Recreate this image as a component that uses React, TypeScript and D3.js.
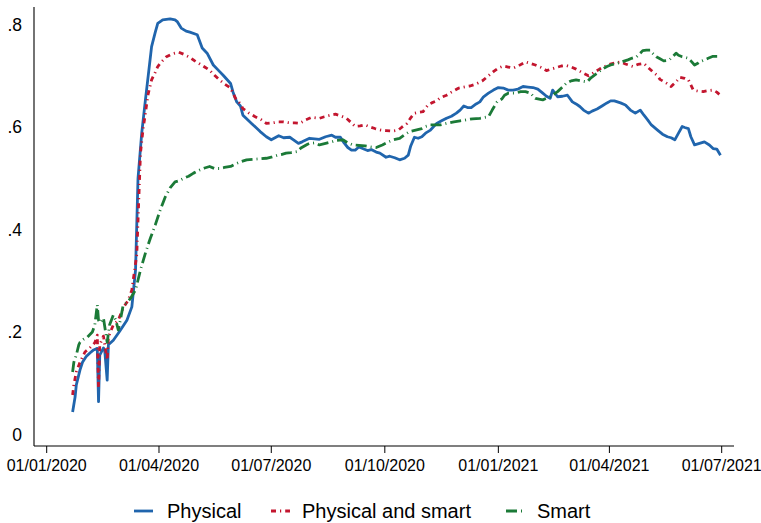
import React from "react";
import * as d3 from "d3";

const START = new Date(2020, 0, 1);
const xTickDates = ["2020-01-01", "2020-04-01", "2020-07-01", "2020-10-01", "2021-01-01", "2021-04-01", "2021-07-01"];
const yTicks = [0, 0.2, 0.4, 0.6, 0.8];
const yTickLabels = ["0", ".2", ".4", ".6", ".8"];
const seriesNames = ["Physical", "Physical and smart", "Smart"];

// [days since 2020-01-01, share]
const physical: [number, number][] = [
  [21,0.044],[23,0.073],[24,0.097],[27,0.126],[29,0.141],[32,0.152],[35,0.159],[38,0.165],[41,0.168],[42,0.064],[43,0.155],[46,0.169],[47,0.165],[49,0.106],[50,0.175],[54,0.184],[59,0.201],[65,0.223],[69,0.249],[72,0.321],[74,0.5],[77,0.588],[80,0.653],[85,0.757],[88,0.785],[90,0.802],[94,0.809],[97,0.81],[100,0.811],[104,0.809],[106,0.805],[109,0.793],[113,0.787],[116,0.785],[122,0.78],[126,0.754],[130,0.744],[135,0.721],[139,0.711],[143,0.701],[149,0.685],[151,0.668],[154,0.649],[157,0.641],[159,0.623],[162,0.616],[166,0.607],[170,0.598],[173,0.591],[178,0.581],[182,0.575],[185,0.579],[188,0.583],[192,0.579],[197,0.58],[200,0.575],[204,0.568],[207,0.571],[213,0.578],[217,0.577],[221,0.576],[226,0.581],[231,0.584],[234,0.58],[238,0.58],[241,0.569],[244,0.56],[247,0.555],[250,0.555],[253,0.561],[256,0.558],[260,0.554],[263,0.556],[267,0.551],[270,0.549],[275,0.541],[278,0.543],[282,0.54],[286,0.536],[290,0.539],[293,0.545],[295,0.563],[298,0.58],[301,0.578],[304,0.581],[307,0.588],[311,0.594],[316,0.607],[320,0.612],[324,0.617],[328,0.621],[332,0.627],[335,0.633],[338,0.641],[341,0.638],[344,0.638],[348,0.645],[351,0.649],[354,0.659],[358,0.666],[362,0.672],[366,0.677],[370,0.676],[374,0.672],[378,0.672],[382,0.674],[386,0.679],[390,0.678],[394,0.677],[398,0.674],[402,0.666],[405,0.66],[408,0.656],[410,0.672],[414,0.659],[418,0.66],[422,0.662],[426,0.649],[429,0.645],[432,0.64],[435,0.633],[439,0.627],[442,0.631],[446,0.635],[450,0.641],[454,0.647],[457,0.651],[460,0.651],[465,0.647],[469,0.643],[473,0.633],[477,0.627],[481,0.633],[484,0.623],[487,0.614],[490,0.604],[495,0.594],[499,0.586],[503,0.581],[506,0.579],[509,0.575],[512,0.588],[515,0.601],[517,0.599],[520,0.597],[522,0.581],[525,0.565],[529,0.568],[533,0.571],[537,0.565],[540,0.558],[543,0.557],[546,0.545]
];

const physicalAndSmart: [number, number][] = [
  [21,0.077],[22,0.097],[24,0.122],[27,0.141],[31,0.161],[35,0.169],[39,0.179],[41,0.194],[42,0.091],[43,0.175],[46,0.192],[49,0.145],[50,0.19],[54,0.214],[58,0.223],[62,0.247],[66,0.262],[69,0.282],[73,0.351],[76,0.549],[78,0.594],[80,0.627],[82,0.662],[85,0.692],[88,0.707],[90,0.718],[93,0.727],[97,0.737],[102,0.743],[107,0.746],[111,0.742],[116,0.736],[120,0.729],[124,0.723],[128,0.717],[132,0.711],[136,0.701],[140,0.692],[144,0.684],[149,0.676],[153,0.656],[157,0.645],[159,0.636],[164,0.627],[169,0.62],[174,0.614],[178,0.607],[183,0.608],[188,0.61],[192,0.61],[197,0.608],[201,0.608],[205,0.607],[210,0.614],[215,0.619],[218,0.618],[221,0.617],[225,0.62],[230,0.623],[234,0.625],[238,0.622],[243,0.617],[247,0.608],[250,0.601],[254,0.602],[258,0.604],[262,0.6],[266,0.597],[271,0.594],[275,0.593],[280,0.592],[285,0.594],[288,0.6],[292,0.607],[295,0.618],[298,0.627],[302,0.629],[305,0.63],[309,0.643],[312,0.647],[316,0.651],[319,0.657],[324,0.662],[328,0.668],[334,0.676],[338,0.678],[343,0.68],[348,0.684],[353,0.69],[357,0.698],[362,0.708],[366,0.715],[370,0.719],[374,0.717],[378,0.715],[382,0.719],[388,0.727],[392,0.724],[396,0.721],[401,0.716],[405,0.71],[409,0.713],[413,0.716],[417,0.719],[421,0.72],[425,0.717],[429,0.713],[434,0.706],[439,0.7],[444,0.707],[448,0.713],[452,0.718],[456,0.722],[460,0.725],[465,0.727],[469,0.723],[475,0.718],[479,0.722],[484,0.724],[487,0.717],[491,0.708],[495,0.7],[497,0.693],[502,0.686],[506,0.679],[510,0.688],[513,0.697],[517,0.695],[520,0.692],[524,0.672],[528,0.67],[532,0.669],[536,0.671],[540,0.672],[543,0.668],[546,0.662]
];

const smart: [number, number][] = [
  [21,0.122],[22,0.141],[24,0.155],[26,0.175],[27,0.18],[30,0.186],[33,0.19],[37,0.2],[39,0.214],[41,0.253],[42,0.223],[43,0.218],[46,0.227],[49,0.18],[51,0.214],[54,0.233],[56,0.223],[58,0.204],[60,0.227],[62,0.253],[65,0.257],[68,0.266],[72,0.282],[76,0.321],[80,0.354],[84,0.383],[88,0.409],[92,0.438],[96,0.463],[100,0.481],[104,0.493],[107,0.495],[111,0.5],[115,0.504],[119,0.51],[124,0.516],[128,0.52],[132,0.523],[136,0.519],[140,0.519],[144,0.521],[149,0.523],[153,0.528],[157,0.532],[162,0.536],[167,0.537],[173,0.538],[178,0.539],[182,0.541],[186,0.544],[190,0.546],[194,0.549],[198,0.55],[203,0.552],[206,0.559],[211,0.566],[213,0.568],[217,0.569],[221,0.565],[226,0.568],[231,0.571],[235,0.574],[240,0.575],[244,0.569],[248,0.565],[253,0.564],[258,0.563],[263,0.561],[267,0.56],[272,0.565],[277,0.571],[281,0.575],[286,0.578],[290,0.585],[294,0.591],[299,0.594],[304,0.597],[307,0.601],[311,0.604],[315,0.604],[319,0.604],[324,0.607],[330,0.61],[335,0.612],[340,0.614],[345,0.616],[351,0.617],[358,0.62],[361,0.633],[365,0.649],[369,0.655],[371,0.662],[374,0.666],[380,0.666],[384,0.669],[388,0.669],[392,0.666],[396,0.656],[402,0.653],[408,0.659],[414,0.669],[418,0.678],[421,0.685],[425,0.69],[429,0.692],[433,0.69],[438,0.688],[441,0.696],[446,0.705],[449,0.711],[454,0.718],[457,0.721],[462,0.724],[466,0.727],[471,0.731],[474,0.734],[478,0.737],[481,0.744],[483,0.749],[486,0.75],[489,0.75],[491,0.744],[494,0.737],[497,0.733],[500,0.729],[503,0.73],[505,0.732],[508,0.739],[510,0.744],[512,0.74],[515,0.737],[517,0.736],[520,0.734],[522,0.729],[525,0.721],[528,0.725],[529,0.727],[533,0.731],[536,0.734],[540,0.738],[543,0.738],[546,0.738]
];

const W = 761;
const H = 523;
const FONT = "'Liberation Sans', Arial, Helvetica, sans-serif";

const styles = [
  { color: "#2065ad", dash: "none" },
  { color: "#c3162f", dash: "5,4,1.2,4" },
  { color: "#1b7a37", dash: "11,4,1,4" },
];

export default function App() {
  const parse = d3.timeParse("%Y-%m-%d");
  const x = d3
    .scaleTime()
    .domain([START, new Date(2021, 6, 1)])
    .range([46.7, 721.7]);
  const y = d3.scaleLinear().domain([0, 0.8]).range([434.5, 24.5]);
  const fmt = d3.timeFormat("%d/%m/%Y");

  const line = d3
    .line<[number, number]>()
    .x((d) => x(d3.timeDay.offset(START, d[0])))
    .y((d) => y(d[1]));

  const series = [physical, physicalAndSmart, smart];
  const axisX = 34;
  const axisY = 446;

  const legendItems = [
    { lx: 134, tx: 167 },
    { lx: 271, tx: 302 },
    { lx: 506, tx: 537 },
  ];

  return (
    <div style={{ position: "fixed", left: 0, top: 0 }}>
      <svg width={W} height={H} style={{ display: "block", background: "#fff" }}>
        <rect width={W} height={H} fill="#fff" />
        <line x1={axisX} x2={axisX} y1={7} y2={axisY} stroke="#000" strokeWidth={1.1} />
        <line x1={axisX} x2={734} y1={axisY} y2={axisY} stroke="#000" strokeWidth={1.1} />
        {yTicks.map((t, i) => (
          <text
            key={t}
            x={22}
            y={y(t)}
            dy="0.35em"
            textAnchor="end"
            fontFamily={FONT}
            fontSize={17.5}
            fill="#000"
          >
            {yTickLabels[i]}
          </text>
        ))}
        {xTickDates.map((s) => {
          const d = parse(s)!;
          const px = x(d);
          return (
            <g key={s}>
              <line x1={px} x2={px} y1={axisY} y2={axisY + 7} stroke="#000" strokeWidth={1} />
              <text x={px} y={471} textAnchor="middle" fontFamily={FONT} fontSize={16} fill="#000">
                {fmt(d)}
              </text>
            </g>
          );
        })}
        {series.map((data, i) => (
          <path
            key={seriesNames[i]}
            d={line(data) || ""}
            fill="none"
            stroke={styles[i].color}
            strokeWidth={2.8}
            strokeDasharray={styles[i].dash}
            strokeLinejoin="round"
          />
        ))}
        {seriesNames.map((name, i) => (
          <g key={name}>
            <line
              x1={legendItems[i].lx}
              x2={legendItems[i].lx + 19}
              y1={511}
              y2={511}
              stroke={styles[i].color}
              strokeWidth={2.8}
              strokeDasharray={styles[i].dash}
            />
            <text x={legendItems[i].tx} y={518} fontFamily={FONT} fontSize={20} fill="#000">
              {name}
            </text>
          </g>
        ))}
      </svg>
    </div>
  );
}
